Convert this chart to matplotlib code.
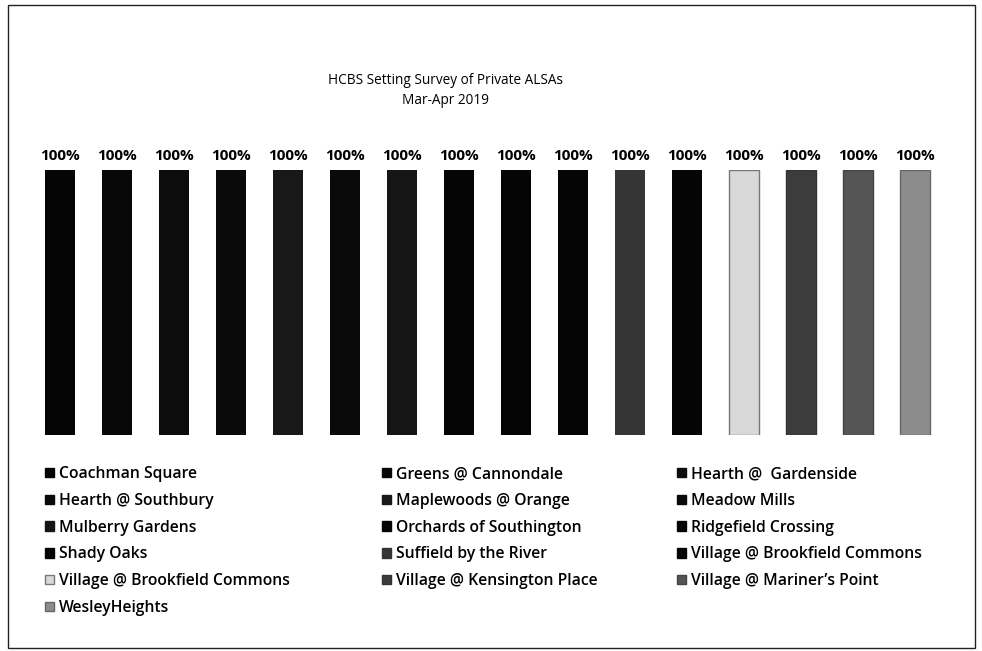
import matplotlib
matplotlib.use("Agg")
import matplotlib.pyplot as plt
import matplotlib.patches as mpatches

# ── data ─────────────────────────────────────────────────────────────────────
sites = [
    "Coachman Square", "Greens @ Cannondale", "Hearth @  Gardenside",
    "Hearth @ Southbury", "Maplewoods @ Orange", "Meadow Mills",
    "Mulberry Gardens", "Orchards of Southington", "Ridgefield Crossing",
    "Shady Oaks", "Suffield by the River", "Village @ Brookfield Commons",
    "Village @ Brookfield Commons", "Village @ Kensington Place",
    "Village @ Mariner\u2019s Point", "WesleyHeights",
]
pct = [100, 100, 100, 100, 100, 100, 100, 100,
       100, 100, 100, 100, 100, 100, 100, 100]

# ── style ────────────────────────────────────────────────────────────────────
colors = ["#050505", "#080808", "#0c0c0c", "#0a0a0a", "#181818", "#0a0a0a",
          "#151515", "#050505", "#050505", "#050505", "#353535", "#050505",
          "#d9d9d9", "#3c3c3c", "#555555", "#8c8c8c"]
edges = ["none"] * 12 + ["#777777", "#333333", "#444444", "#666666"]
FONT = "Open Sans"

fig = plt.figure(figsize=(9.82, 6.51), dpi=100)
fig.patch.set_facecolor("white")

# outer frame
fig.add_artist(mpatches.Rectangle((8 / 982, 3 / 651), 967 / 982, 643 / 651,
                                  transform=fig.transFigure, fill=False,
                                  edgecolor="#222222", linewidth=1.0))

ax = fig.add_axes([31.5 / 982, 216 / 651, 912 / 982, 265 / 651])
x = list(range(len(sites)))
bars = ax.bar(x, [p / 100 for p in pct], width=0.53, color=colors,
              edgecolor=edges, linewidth=1.0)
for xi, p in zip(x, pct):
    ax.text(xi, 1.025, f"{p}%", ha="center", va="bottom", fontsize=11,
            fontweight="bold", family=FONT)

ax.set_xlim(-0.5, len(sites) - 0.5)
ax.set_ylim(0, 1)
ax.axis("off")

fig.text(446 / 982, 1 - 80 / 651, "HCBS Setting Survey of Private ALSAs",
         ha="center", va="center", fontsize=9.8, family=FONT)
fig.text(446 / 982, 1 - 100 / 651, "Mar-Apr 2019",
         ha="center", va="center", fontsize=9.8, family=FONT)

# ── legend: three columns, row-major order as in the original ────────────────
handles = [mpatches.Patch(facecolor=c, edgecolor=(e if e != "none" else c),
                          label=s) for s, c, e in zip(sites, colors, edges)]
col_x = [45, 382, 677]
for k in range(3):
    hs = handles[k::3]
    fig.legend(handles=hs, loc="upper left",
               bbox_to_anchor=(col_x[k] / 982, 1 - 466 / 651),
               frameon=False, handlelength=0.55,
               handleheight=0.55, handletextpad=0.35, labelspacing=0.69,
               borderpad=0, borderaxespad=0,
               prop={"family": FONT, "size": 11.3, "weight": "semibold"})

fig.savefig("out.png", dpi=100, facecolor="white")
